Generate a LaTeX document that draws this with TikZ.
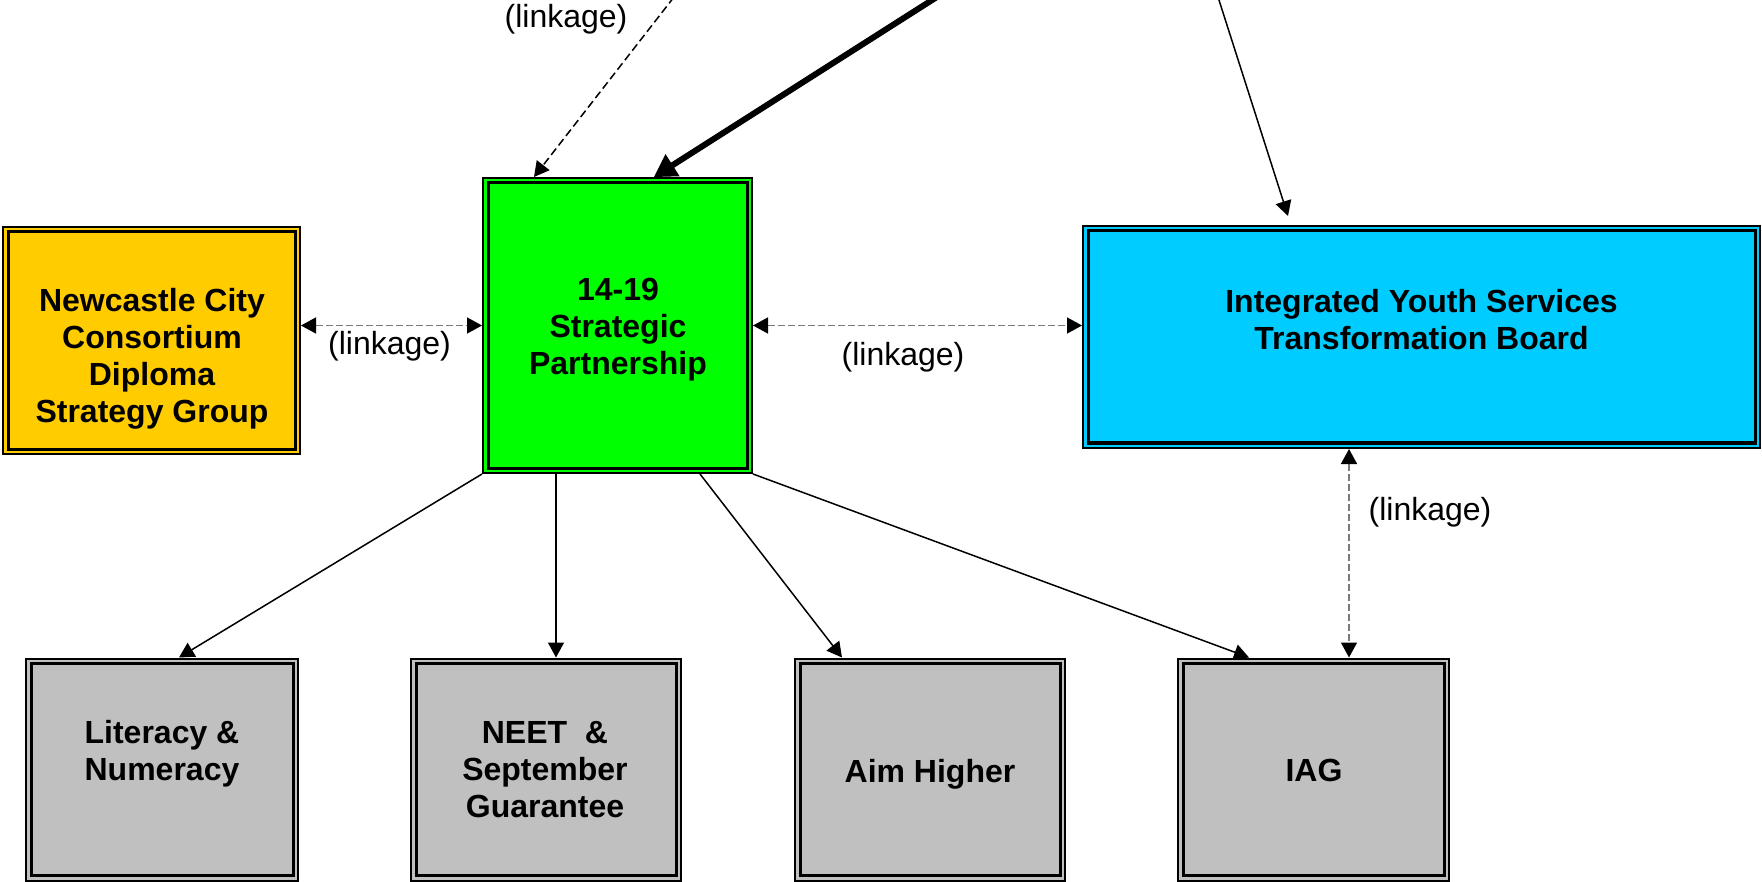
\documentclass[tikz,border=0pt]{standalone}
\usepackage{fontspec}
\setmainfont{Liberation Sans}
\usetikzlibrary{arrows.meta}
\definecolor{cyellow}{HTML}{FFCC00}
\definecolor{cgreen}{HTML}{00FF00}
\definecolor{cblue}{HTML}{00CCFF}
\definecolor{cgrey}{HTML}{C0C0C0}
\definecolor{dashgrey}{HTML}{7A7A7A}
\begin{document}
\begin{tikzpicture}[x=1pt,y=-1pt,
  box/.style={draw=black, line width=2pt, inner sep=0pt},
  innerframe/.style={draw=black, line width=3pt},
  boxtext/.style={font=\bfseries\fontsize{32}{37}\selectfont, align=center, inner sep=0pt},
  linklabel/.style={font=\fontsize{32}{37}\selectfont, inner sep=0pt},
  conn/.style={line width=1.5pt, -{Triangle[length=15pt,width=16pt]}},
  link/.style={line width=1.5pt, draw=dashgrey, dash pattern=on 7pt off 3pt,
    {Triangle[length=15pt,width=16pt,color=black]}-{Triangle[length=15pt,width=16pt,color=black]}},
  topdash/.style={line width=1.5pt, draw=black, dash pattern=on 8pt off 4pt, -{Triangle[length=15pt,width=16pt]}},
  heavy/.style={line width=6pt, -{Triangle[length=22pt,width=26pt,line width=1pt]}}]
\useasboundingbox (0,0) rectangle (1762,882);
\clip (0,0) rectangle (1762,882);

% boxes
\node[box, fill=cyellow, minimum width=297pt, minimum height=227pt] (ncc) at (151.5,340.5) {};
\node[box, fill=cgreen, minimum width=269pt, minimum height=295pt] (sp) at (617.5,325.5) {};
\node[box, fill=cblue, minimum width=677pt, minimum height=222pt] (iys) at (1421.5,337) {};
\node[box, fill=cgrey, minimum width=272pt, minimum height=222pt] (lit) at (162,769.5) {};
\node[box, fill=cgrey, minimum width=270pt, minimum height=222pt] (neet) at (546,769.5) {};
\node[box, fill=cgrey, minimum width=270pt, minimum height=222pt] (aim) at (930,769.5) {};
\node[box, fill=cgrey, minimum width=271pt, minimum height=222pt] (iag) at (1313.5,769.5) {};
\foreach \n in {ncc,sp,iys,lit,neet,aim,iag}
  \draw[innerframe] ([shift={(6pt,-6pt)}]\n.north west) rectangle ([shift={(-6pt,6pt)}]\n.south east);

% box texts
\node[boxtext] (ncctext) at (152,359) {Newcastle City\\Consortium\\Diploma\\Strategy Group};
\node[boxtext] (sptext) at (618,330) {14-19\\Strategic\\Partnership};
\node[boxtext] (iystext) at (1421.5,320) {Integrated Youth Services\\Transformation Board};
\node[boxtext] (littext) at (162,754) {Literacy \&\\Numeracy};
\node[boxtext] (neettext) at (545,770) {NEET\ \ \&\\September\\Guarantee};
\node[boxtext] (aimtext) at (930,774) {Aim Higher};
\node[boxtext] (iagtext) at (1314,770) {IAG};

% free ends of incoming connectors
\coordinate (srcA) at (674,-3);
\coordinate (srcB) at (940,-5);
\coordinate (srcC) at (1218,-3);

% connectors from above
\draw[topdash] (srcA) -- ([xshift=52pt]sp.north west);
\draw[heavy] (srcB) -- ([xshift=172pt]sp.north west);
\draw[conn] (srcC) -- ([xshift=206pt,yshift=9pt]iys.north west);

% linkages
\draw[link] (sp.west -| ncc.east) -- (sp.west);
\draw[link] (sp.east) -- (sp.east -| iys.west);
\draw[link] ([xshift=35.5pt]iag.north |- iys.south) -- ([xshift=35.5pt]iag.north);

% children
\draw[conn] (sp.south west) -- ([xshift=154pt]lit.north west);
\draw[conn] ([xshift=74pt]sp.south west) -- ([xshift=74pt]sp.south west |- neet.north);
\draw[conn] ([xshift=218pt]sp.south west) -- ([xshift=48pt]aim.north west);
\draw[conn] (sp.south east) -- ([xshift=72pt]iag.north west);

% labels
\node[linklabel] (lbltop) at (566,19) {(linkage)};
\node[linklabel] (lblleft) at (389.5,346) {(linkage)};
\node[linklabel] (lblmid) at (903,357) {(linkage)};
\node[linklabel] (lblright) at (1430,512) {(linkage)};
\end{tikzpicture}
\end{document}
